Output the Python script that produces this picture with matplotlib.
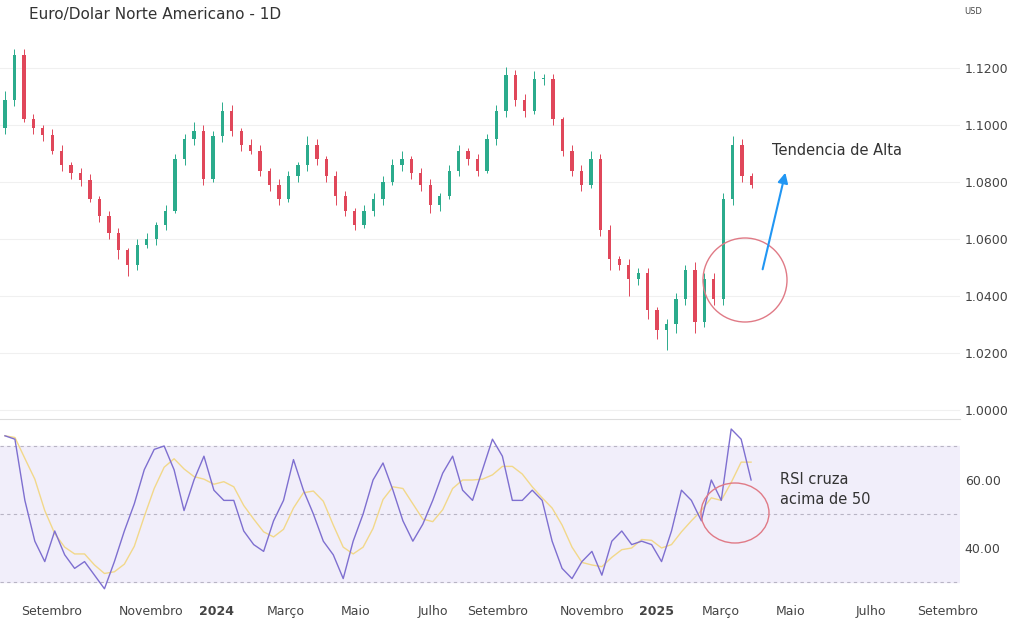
import numpy as np
import pandas as pd
import matplotlib.pyplot as plt
from matplotlib.patches import Ellipse, FancyArrowPatch

# closes, one candle per step (roughly a week of trading)
closes = [1.1088, 1.1246, 1.1020, 1.0990, 1.0965, 1.0910, 1.0860, 1.0830, 1.0807, 1.0740,
          1.0680, 1.0620, 1.0560, 1.0510, 1.0580, 1.0600, 1.0650, 1.0700, 1.0880, 1.0950,
          1.0980, 1.0810, 1.0960, 1.1050, 1.0980, 1.0930, 1.0910, 1.0840, 1.0790, 1.0740,
          1.0820, 1.0860, 1.0930, 1.0880, 1.0820, 1.0750, 1.0700, 1.0650, 1.0700, 1.0740,
          1.0800, 1.0860, 1.0880, 1.0830, 1.0790, 1.0720, 1.0750, 1.0840, 1.0910, 1.0880,
          1.0840, 1.0950, 1.1050, 1.1175, 1.1088, 1.1050, 1.1160, 1.1160, 1.1020, 1.0910,
          1.0840, 1.0790, 1.0880, 1.0630, 1.0530, 1.0510, 1.0460, 1.0480, 1.0350, 1.0280,
          1.0300, 1.0390, 1.0490, 1.0310, 1.0460, 1.0390, 1.0740, 1.0930, 1.0820, 1.0790]
opens = [1.0990] + closes[:-1]
upper = [0.003, 0.002, 0.002, 0.002, 0.001, 0.002, 0.002, 0.001, 0.002, 0.002,
         0.001, 0.002, 0.002, 0.001, 0.002, 0.002, 0.001, 0.002, 0.002, 0.002,
         0.003, 0.002, 0.002, 0.003, 0.002, 0.001, 0.002, 0.002, 0.001, 0.002,
         0.002, 0.001, 0.003, 0.002, 0.001, 0.002, 0.002, 0.001, 0.002, 0.002,
         0.002, 0.002, 0.003, 0.001, 0.002, 0.002, 0.001, 0.002, 0.002, 0.001,
         0.002, 0.002, 0.002, 0.003, 0.002, 0.002, 0.003, 0.002, 0.002, 0.001,
         0.002, 0.002, 0.003, 0.002, 0.002, 0.001, 0.002, 0.002, 0.002, 0.001,
         0.002, 0.002, 0.002, 0.003, 0.002, 0.002, 0.002, 0.003, 0.002, 0.001]
lower = [0.002, 0.002, 0.001, 0.002, 0.002, 0.001, 0.002, 0.002, 0.002, 0.001,
         0.002, 0.002, 0.003, 0.004, 0.002, 0.001, 0.002, 0.002, 0.001, 0.002,
         0.002, 0.002, 0.001, 0.002, 0.002, 0.002, 0.001, 0.002, 0.002, 0.002,
         0.001, 0.002, 0.002, 0.002, 0.002, 0.003, 0.002, 0.002, 0.001, 0.002,
         0.002, 0.001, 0.002, 0.002, 0.002, 0.003, 0.002, 0.001, 0.002, 0.002,
         0.002, 0.001, 0.002, 0.002, 0.002, 0.002, 0.001, 0.002, 0.002, 0.002,
         0.002, 0.002, 0.001, 0.002, 0.004, 0.002, 0.006, 0.002, 0.003, 0.003,
         0.007, 0.003, 0.002, 0.004, 0.002, 0.002, 0.002, 0.002, 0.002, 0.001]

rsi = [73, 72, 54, 42, 36, 45, 38, 34, 36, 32,
       28, 36, 45, 53, 63, 69, 70, 63, 51, 60,
       67, 57, 54, 54, 45, 41, 39, 48, 54, 66,
       57, 50, 42, 38, 31, 42, 50, 60, 65, 57,
       48, 42, 47, 54, 62, 67, 57, 54, 63, 72,
       67, 54, 54, 57, 54, 42, 34, 31, 36, 39,
       32, 42, 45, 41, 42, 41, 36, 45, 57, 54,
       48, 60, 54, 75, 72, 60]

month_pos = [4.7, 14.7, 21.3, 28.2, 35.2, 43, 49.5, 59, 65.5, 72, 79, 87, 94.7]
month_lbl = ["Setembro", "Novembro", "2024", "Março", "Maio", "Julho", "Setembro",
             "Novembro", "2025", "Março", "Maio", "Julho", "Setembro"]
price_ticks = [1.0000, 1.0200, 1.0400, 1.0600, 1.0800, 1.1000, 1.1200]
rsi_ticks = [40, 60]

up_c, dn_c = "#2bab8c", "#e0475a"
fig = plt.figure(figsize=(10.24, 6.4), dpi=100)
ax = fig.add_axes([0, 0.347, 0.9375, 0.653])
ax2 = fig.add_axes([0, 0.0625, 0.9375, 0.281], sharex=ax)

n = len(closes)
step = 76 / n
xs = np.arange(n) * step
for x, o, c, u, l in zip(xs, opens, closes, upper, lower):
    col = up_c if c >= o else dn_c
    ax.vlines(x, min(o, c) - l, max(o, c) + u, color=col, lw=0.7)
    ax.bar(x, abs(c - o) or 0.0004, bottom=min(o, c), width=0.35 * step, color=col)

ax.set_ylim(0.9972, 1.1439)
ax.set_xlim(-0.5, 96)
for t in price_ticks:
    ax.axhline(t, color="#f0f0f0", lw=0.8, zorder=0)
ax.yaxis.tick_right()
ax.set_yticks(price_ticks)
ax.set_yticklabels([f"{t:.4f}" for t in price_ticks])

xr = np.arange(len(rsi)) * (76 / len(rsi))
rsi_ma = pd.Series(rsi).rolling(4, min_periods=1).mean()
ax2.axhspan(30, 70, color="#f1eefa", zorder=0)
for lv in (30, 50, 70):
    ax2.axhline(lv, color="#b8b4c4", lw=0.8, ls=(0, (3, 3)))
ax2.plot(xr, rsi_ma, color="#f2d88a", lw=1)
ax2.plot(xr, rsi, color="#7e6fd0", lw=1)
ax2.set_ylim(24.7, 77.6)
ax2.yaxis.tick_right()
ax2.set_yticks(rsi_ticks)
ax2.set_yticklabels([f"{t:.2f}" for t in rsi_ticks])
ax2.set_xticks(month_pos)
ax2.set_xticklabels(month_lbl)
for lbl in ax2.get_xticklabels():
    if lbl.get_text() in ("2024", "2025"):
        lbl.set_fontweight("bold")
        lbl.set_fontsize(11)

for a in (ax, ax2):
    for s in a.spines.values():
        s.set_visible(False)
    a.tick_params(length=0, labelsize=9, colors="#444444")
ax.tick_params(labelbottom=False)
fig.add_artist(plt.Line2D([0, 0.9375], [0.346, 0.346], color="#dddddd", lw=0.8))

fig.text(0.028, 0.978, "Euro/Dolar Norte Americano - 1D", fontsize=11, color="#333333", va="center")
fig.text(0.942, 0.982, "USD", fontsize=6, color="#444444", va="center")
fig.text(0.754, 0.765, "Tendencia de Alta", fontsize=10.5, color="#333333", va="center")
fig.text(0.762, 0.235, "RSI cruza\nacima de 50", fontsize=10.5, color="#333333", va="center", linespacing=1.4)

def px(x, y):
    return (x / 100, (640 - y) / 100)

fig.add_artist(Ellipse(px(745, 280), 0.84, 0.84, transform=fig.dpi_scale_trans,
                       fill=False, ec="#e07a86", lw=1))
fig.add_artist(Ellipse(px(735, 513), 0.68, 0.6, transform=fig.dpi_scale_trans,
                       fill=False, ec="#e07a86", lw=1))
fig.add_artist(FancyArrowPatch(px(762, 272), px(786, 170), transform=fig.dpi_scale_trans,
                               arrowstyle="-|>,head_length=6,head_width=3", color="#2196f3", lw=1.5))

fig.savefig("out.png", dpi=100)
